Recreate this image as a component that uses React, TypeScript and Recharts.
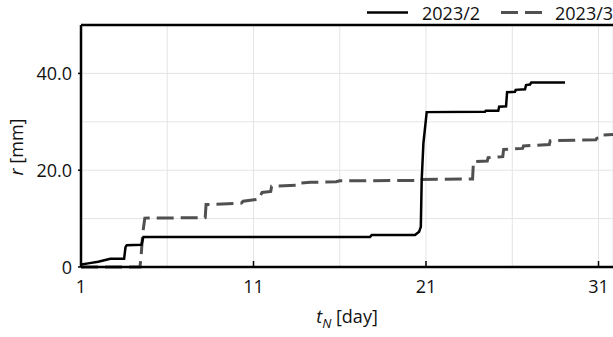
import { LineChart, Line, XAxis, YAxis, CartesianGrid, Legend, ReferenceLine } from 'recharts'

// crack opening r [mm] against day of month t_N
const febDays = [
  1.0, 1.5, 2.0, 2.35, 2.7, 3.5, 3.58, 3.65, 4.5, 4.62, 17.75, 17.85, 20.36, 20.6, 20.7, 20.75, 20.85,
  21.04, 24.42, 24.47, 25.19, 25.24, 25.64, 25.7, 26.16, 26.2, 26.74, 26.8, 27.03, 27.1, 29.06,
]
const febR = [
  0.5, 0.8, 1.1, 1.4, 1.7, 1.7, 4.1, 4.5, 4.6, 6.2, 6.2, 6.6, 6.6, 7.3, 8.3, 18.0, 25.6,
  32.0, 32.1, 32.3, 32.3, 33.1, 33.2, 36.1, 36.2, 36.6, 36.7, 37.6, 37.7, 38.1, 38.1,
]

const marDays = [
  1, 4.42, 4.5, 4.58, 4.7, 8.2, 8.25, 10.3, 10.4, 11.3, 11.4, 11.5, 12.0, 12.05, 13.5, 13.55, 14.3,
  15.8, 16.0, 20.6, 20.65, 23.7, 23.75, 24.55, 24.6, 25.45, 25.5, 26.6, 26.65, 28.15, 28.2, 30.85,
  30.9, 31.05, 31.1, 31.84,
]
const marR = [
  0, 0, 3.0, 7.0, 10.1, 10.2, 12.9, 13.2, 13.6, 14.0, 14.8, 15.4, 15.6, 16.7, 16.9, 17.3, 17.5,
  17.6, 17.8, 17.9, 18.1, 18.2, 21.8, 21.9, 22.6, 22.8, 24.3, 24.5, 25.0, 25.3, 26.1, 26.3,
  26.6, 26.7, 27.2, 27.4,
]

const xTicks = [1, 6, 11, 16, 21, 26, 31]
const xMajor = [1, 11, 21, 31]
const yTicks = [0, 10, 20, 30, 40, 50]
const yMajor = [0, 20, 40]

const feb = febDays.map((d, i) => ({ d, r: febR[i] }))
const mar = marDays.map((d, i) => ({ d, r: marR[i] }))

const FONT = '"Open Sans", sans-serif'
const GREY = '#505050'

function XTick({ x, y, payload }: any) {
  if (!xMajor.includes(payload.value)) return null
  return (
    <g>
      <line x1={x} x2={x} y1={y} y2={y - 6} stroke="#000" strokeWidth={1.5} />
      <text x={x} y={y + 18.5} textAnchor="middle" dominantBaseline="central" fontSize={18} fontFamily={FONT} fill="#111">
        {payload.value}
      </text>
    </g>
  )
}

function YTick({ x, y, payload }: any) {
  if (!yMajor.includes(payload.value)) return null
  const v = payload.value
  return (
    <g>
      <line x1={x - 3} x2={x} y1={y} y2={y} stroke="#000" strokeWidth={1.5} />
      <text x={x - 9} y={y} textAnchor="end" dominantBaseline="central" fontSize={18} fontFamily={FONT} fill="#111">
        {v === 0 ? '0' : v.toFixed(1)}
      </text>
    </g>
  )
}

function XTitle() {
  return (
    <text x={347} y={323} textAnchor="middle" fontSize={18} fontFamily={FONT} fill="#111">
      <tspan fontStyle="italic">t</tspan>
      <tspan fontStyle="italic" fontSize={13} dy={5}>N</tspan>
      <tspan dy={-5}> [day]</tspan>
    </text>
  )
}

function YTitle() {
  return (
    <text
      x={16}
      y={147}
      transform="rotate(-90 16 147)"
      textAnchor="middle"
      dominantBaseline="central"
      fontSize={18}
      fontFamily={FONT}
      fill="#111"
    >
      <tspan fontStyle="italic">r</tspan>
      <tspan> [mm]</tspan>
    </text>
  )
}

function LegendBox() {
  return (
    <svg width={260} height={26} style={{ display: 'block', overflow: 'visible' }}>
      <line x1={7} x2={48} y1={12.5} y2={12.5} stroke="#000" strokeWidth={2.5} />
      <text x={62} y={12.5} dominantBaseline="central" fontSize={18} fontFamily={FONT} fill="#111">
        2023/2
      </text>
      <line x1={141} x2={182} y1={12.5} y2={12.5} stroke={GREY} strokeWidth={3} strokeDasharray="17 7" />
      <text x={195} y={12.5} dominantBaseline="central" fontSize={18} fontFamily={FONT} fill="#111">
        2023/3
      </text>
    </svg>
  )
}

export default function App() {
  return (
    <div style={{ position: 'absolute', left: 0, top: 0, background: '#fff' }}>
      <LineChart width={613} height={337} margin={{ top: 25, right: 0, bottom: 0, left: 0 }}>
        <CartesianGrid stroke="#e4e4e4" strokeWidth={1} />
        <XAxis
          type="number"
          dataKey="d"
          domain={[1, 31.84]}
          ticks={xTicks}
          allowDataOverflow
          height={70}
          tickSize={0}
          tickMargin={0}
          tickLine={false}
          tick={<XTick />}
          axisLine={{ stroke: '#000', strokeWidth: 2.5 }}
          label={<XTitle />}
        />
        <YAxis
          type="number"
          domain={[0, 50]}
          ticks={yTicks}
          width={81}
          tickSize={0}
          tickMargin={0}
          tickLine={false}
          tick={<YTick />}
          axisLine={{ stroke: '#000', strokeWidth: 2.5 }}
          label={<YTitle />}
        />
        <ReferenceLine y={50} stroke="#000" strokeWidth={2.5} />
        <Legend
          verticalAlign="middle"
          align="center"
          content={<LegendBox />}
          wrapperStyle={{ top: 0, left: 360, width: 260, height: 26 }}
        />
        <Line
          data={mar}
          dataKey="r"
          name="2023/3"
          type="linear"
          stroke={GREY}
          strokeWidth={3}
          strokeDasharray="17 7"
          dot={false}
          isAnimationActive={false}
        />
        <Line
          data={feb}
          dataKey="r"
          name="2023/2"
          type="linear"
          stroke="#000"
          strokeWidth={2.5}
          dot={false}
          isAnimationActive={false}
        />
      </LineChart>
    </div>
  )
}
